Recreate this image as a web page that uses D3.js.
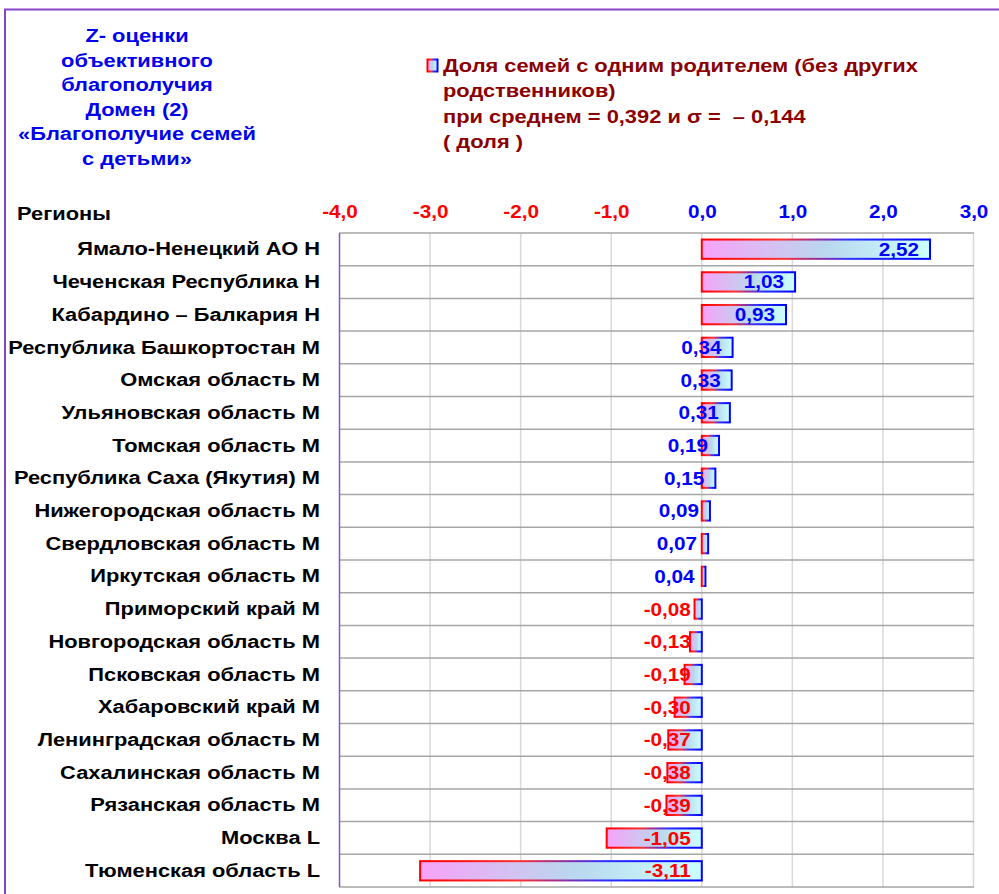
<!DOCTYPE html>
<html>
<head>
<meta charset="utf-8">
<script src="https://cdn.jsdelivr.net/npm/d3@7"></script>
<style>
  body { margin: 0; background: #fff; }
  svg { font-family: "Liberation Sans", Arial, sans-serif; font-weight: bold; }
</style>
</head>
<body>
<script>
'use strict';

// regions (top to bottom) and their z-scores
const regions = [
  "Ямало-Ненецкий АО Н", "Чеченская Республика Н", "Кабардино – Балкария Н",
  "Республика Башкортостан М", "Омская область М", "Ульяновская область М",
  "Томская область М", "Республика Саха (Якутия) М", "Нижегородская область М",
  "Свердловская область М", "Иркутская область М", "Приморский край М",
  "Новгородская область М", "Псковская область М", "Хабаровский край М",
  "Ленинградская область М", "Сахалинская область М", "Рязанская область М",
  "Москва L", "Тюменская область L"
];
const zValues = [2.52, 1.03, 0.93, 0.34, 0.33, 0.31, 0.19, 0.15, 0.09, 0.07, 0.04,
  -0.08, -0.13, -0.19, -0.30, -0.37, -0.38, -0.39, -1.05, -3.11];
const xTicks = [-4, -3, -2, -1, 0, 1, 2, 3];

const titleLines = ["Z- оценки", "объективного", "благополучия", "Домен (2)",
  "«Благополучие семей", "с детьми»"];
const legendLines = ["Доля семей с одним родителем (без других", "родственников)",
  "при среднем = 0,392 и σ =\u00a0\u00a0– 0,144", "( доля )"];

const width = 999, height = 894;
const SX = 1.15; // the original text is a bit wider than tall
const fmt = d => d3.format(".2f")(d).replace(".", ",").replace("−", "-");

// widen text around its anchor point
function stretch(sel) {
  sel.each(function() {
    const t = d3.select(this);
    const tx = +t.attr("x") || 0, ty = +t.attr("y") || 0;
    t.attr("x", 0).attr("y", 0)
      .attr("transform", `translate(${tx},${ty}) scale(${SX},1)`);
  });
}

const svg = d3.select("body").append("svg")
  .attr("width", width)
  .attr("height", height);

// gradients for bars
const defs = svg.append("defs");
const fillGrad = defs.append("linearGradient").attr("id", "barFill");
fillGrad.append("stop").attr("offset", "0%").attr("stop-color", "#f8a2f8");
fillGrad.append("stop").attr("offset", "55%").attr("stop-color", "#b9d8ee");
fillGrad.append("stop").attr("offset", "100%").attr("stop-color", "#ccffff");
const strokeGrad = defs.append("linearGradient").attr("id", "barStroke");
strokeGrad.append("stop").attr("offset", "0%").attr("stop-color", "#ff0000");
strokeGrad.append("stop").attr("offset", "35%").attr("stop-color", "#ff3030");
strokeGrad.append("stop").attr("offset", "65%").attr("stop-color", "#3030ff");
strokeGrad.append("stop").attr("offset", "100%").attr("stop-color", "#0000ff");

// outer frame (top and left)
svg.append("path")
  .attr("d", "M5,894V9.5H999")
  .attr("fill", "none")
  .attr("stroke", "#8844cc")
  .attr("stroke-width", 2);

// scales
const x = d3.scaleLinear().domain([-4, 3]).range([339.5, 973.5]);
const y = d3.scaleBand().domain(regions).range([233, 887]).paddingInner(0.41).paddingOuter(0.2);
const rowH = (887 - 233) / regions.length;

// vertical gridlines
svg.append("g")
  .selectAll("line")
  .data(xTicks.slice(1))
  .join("line")
  .attr("x1", d => x(d)).attr("x2", d => x(d))
  .attr("y1", 233).attr("y2", 887)
  .attr("stroke", "#d9d9d9")
  .attr("stroke-width", 1.5);

// row separators
svg.append("g")
  .selectAll("line")
  .data(d3.range(regions.length + 1))
  .join("line")
  .attr("x1", 339).attr("x2", 974)
  .attr("y1", i => 233 + i * rowH).attr("y2", i => 233 + i * rowH)
  .attr("stroke", "#a6a6a6")
  .attr("stroke-width", 1.5);

// left axis line
svg.append("line")
  .attr("x1", 339.5).attr("x2", 339.5)
  .attr("y1", 233).attr("y2", 887)
  .attr("stroke", "#8855cc")
  .attr("stroke-width", 1.5);

// bars
const data = regions.map((r, i) => ({ region: r, value: zValues[i] }));
svg.append("g")
  .selectAll("rect")
  .data(data)
  .join("rect")
  .attr("x", d => x(Math.min(0, d.value)))
  .attr("y", d => y(d.region))
  .attr("width", d => Math.abs(x(d.value) - x(0)))
  .attr("height", y.bandwidth())
  .attr("fill", "url(#barFill)")
  .attr("stroke", "url(#barStroke)")
  .attr("stroke-width", 2);

// value labels
svg.append("g")
  .selectAll("text")
  .data(data)
  .join("text")
  .attr("x", d => x(Math.max(0, d.value)) - 11)
  .attr("y", d => y(d.region) + y.bandwidth() / 2 + 6.5)
  .attr("text-anchor", "end")
  .attr("font-size", 18)
  .attr("fill", d => d.value < 0 ? "#ff0000" : "#0000ff")
  .text(d => fmt(d.value))
  .call(stretch);

// top axis
const xAxis = svg.append("g")
  .attr("transform", "translate(0,233)")
  .call(d3.axisTop(x).tickValues(xTicks).tickSize(0).tickPadding(15)
    .tickFormat(d => d3.format(".1f")(d).replace(".", ",").replace("−", "-")));
xAxis.select(".domain").remove();
xAxis.selectAll("text")
  .attr("font-size", 18)
  .attr("font-weight", "bold")
  .attr("font-family", "Liberation Sans, Arial, sans-serif")
  .attr("fill", d => d < 0 ? "#ff0000" : "#0000ff")
  .call(stretch);

// category axis
const yAxis = svg.append("g")
  .attr("transform", "translate(339,0)")
  .call(d3.axisLeft(d3.scaleBand().domain(regions).range([233, 887])).tickSize(0).tickPadding(19));
yAxis.select(".domain").remove();
yAxis.selectAll("text")
  .attr("font-size", 19)
  .attr("font-weight", "bold")
  .attr("font-family", "Liberation Sans, Arial, sans-serif")
  .attr("fill", "#000")
  .call(stretch);

svg.append("text")
  .attr("x", 17).attr("y", 220)
  .attr("font-size", 19)
  .attr("fill", "#000")
  .text("Регионы")
  .call(stretch);

// title
svg.append("g")
  .selectAll("text")
  .data(titleLines)
  .join("text")
  .attr("x", 137)
  .attr("y", (d, i) => 42 + i * 24.6)
  .attr("text-anchor", "middle")
  .attr("font-size", 19)
  .attr("fill", "#0000ee")
  .text(d => d)
  .call(stretch);

// legend
svg.append("rect")
  .attr("x", 427.5).attr("y", 59.5)
  .attr("width", 10).attr("height", 12)
  .attr("fill", "url(#barFill)")
  .attr("stroke", "url(#barStroke)")
  .attr("stroke-width", 2);

svg.append("g")
  .selectAll("text")
  .data(legendLines)
  .join("text")
  .attr("x", 443)
  .attr("y", (d, i) => 72 + i * 25.3)
  .attr("font-size", 19)
  .attr("fill", "#8b0000")
  .text(d => d)
  .call(stretch);
</script>
</body>
</html>
